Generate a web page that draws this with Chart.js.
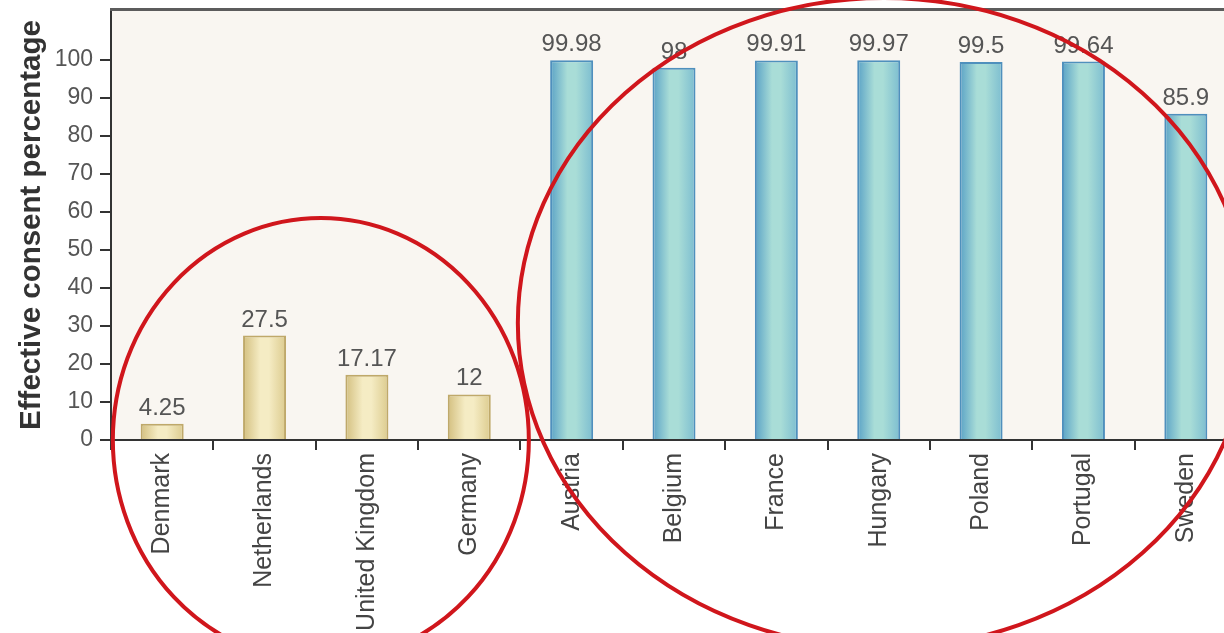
<!DOCTYPE html>
<html>
<head>
<meta charset="utf-8">
<title>Effective consent percentage</title>
<script src="https://cdn.jsdelivr.net/npm/chart.js@4.4.1/dist/chart.umd.min.js"></script>
<style>
    html, body { margin: 0; padding: 0; background: #fff; overflow: hidden; }
    #wrap { width: 1224px; height: 633px; overflow: hidden; }
    canvas { display: block; }
</style>
</head>
<body>
<div id="wrap"><canvas id="consent-chart" width="1250" height="633"></canvas></div>
<script>
/* global Chart:false */
'use strict';

var countries = ['Denmark', 'Netherlands', 'United Kingdom', 'Germany', 'Austria', 'Belgium',
    'France', 'Hungary', 'Poland', 'Portugal', 'Sweden'];
var consent = [4.25, 27.5, 17.17, 12, 99.98, 98, 99.91, 99.97, 99.5, 99.64, 85.9];
var system = ['opt-in', 'opt-in', 'opt-in', 'opt-in', 'opt-out', 'opt-out',
    'opt-out', 'opt-out', 'opt-out', 'opt-out', 'opt-out'];
var yTicks = [0, 10, 20, 30, 40, 50, 60, 70, 80, 90, 100];

var FONT = "'Liberation Sans', Arial, Helvetica, sans-serif";
var BAR_PCT = 0.42;

var palette = {
    'opt-in': { edge: '#d3bf7f', mid: '#f5ecc4', right: '#dccb8e', border: '#bfa96a' },
    'opt-out': { edge: '#5aa2c6', mid: '#a9ddd7', right: '#7cbdd0', border: '#4f90bd' },
};

// cylinder-like shading across each bar
function barFill(ctx) {
    var pal = palette[system[ctx.dataIndex]];
    var chart = ctx.chart;
    var xs = chart.scales.x;
    if (!chart.chartArea || !xs || ctx.type !== 'data') return pal.mid;
    var cx = xs.getPixelForValue(ctx.dataIndex);
    var half = (xs.width / countries.length) * BAR_PCT / 2;
    var g = chart.ctx.createLinearGradient(cx - half, 0, cx + half, 0);
    g.addColorStop(0, pal.edge);
    g.addColorStop(0.4, pal.mid);
    g.addColorStop(0.6, pal.mid);
    g.addColorStop(1, pal.right);
    return g;
}

var backdrop = {
    id: 'backdrop',
    beforeDraw: function (chart) {
        var a = chart.chartArea, c = chart.ctx;
        c.save();
        c.fillStyle = '#f9f6f1';
        c.fillRect(a.left, a.top, a.right - a.left, a.bottom - a.top);
        c.restore();
    },
    afterDraw: function (chart) {
        var a = chart.chartArea, c = chart.ctx;
        c.save();
        c.strokeStyle = '#5c5c5c';
        c.lineWidth = 3;
        c.beginPath();
        c.moveTo(a.left - 1, a.top - 0.5);
        c.lineTo(a.right, a.top - 0.5);
        c.stroke();
        c.restore();
    },
};

var valueLabels = {
    id: 'valueLabels',
    afterDatasetsDraw: function (chart) {
        var c = chart.ctx;
        var meta = chart.getDatasetMeta(0);
        c.save();
        c.font = '24px ' + FONT;
        c.fillStyle = '#555';
        c.textAlign = 'center';
        c.textBaseline = 'alphabetic';
        meta.data.forEach(function (bar, i) {
            c.fillText(String(consent[i]), bar.x, bar.y - 9);
        });
        c.restore();
    },
};

// red rings around the two groups of countries
var rings = {
    id: 'rings',
    afterDraw: function (chart) {
        var xs = chart.scales.x, ys = chart.scales.y, c = chart.ctx;
        var marks = [
            { at: 1.55, val: 0, rx: 208, ry: 222 },
            { at: 7.05, val: 30.8, rx: 366, ry: 325 },
        ];
        c.save();
        c.strokeStyle = '#d0161c';
        c.lineWidth = 4;
        marks.forEach(function (m) {
            c.beginPath();
            c.ellipse(xs.getPixelForValue(m.at), ys.getPixelForValue(m.val), m.rx, m.ry, 0, 0, Math.PI * 2);
            c.stroke();
        });
        c.restore();
    },
};

new Chart(document.getElementById('consent-chart'), {
    type: 'bar',
    data: {
        labels: countries,
        datasets: [
            {
                data: consent,
                backgroundColor: barFill,
                borderColor: system.map(function (s) { return palette[s].border; }),
                borderWidth: 2,
                barPercentage: BAR_PCT,
                categoryPercentage: 1,
            },
        ],
    },
    options: {
        responsive: false,
        animation: false,
        layout: { padding: { top: 10, right: 13, left: 0, bottom: 0 } },
        plugins: {
            legend: { display: false },
            tooltip: { enabled: false },
        },
        scales: {
            x: {
                grid: { drawOnChartArea: false, color: '#333', lineWidth: 2, tickLength: 10 },
                border: { color: '#333', width: 2 },
                ticks: {
                    minRotation: 90,
                    maxRotation: 90,
                    autoSkip: false,
                    padding: 3,
                    color: '#444',
                    font: { family: FONT, size: 25 },
                },
                afterFit: function (scale) {
                    scale.height = 193;
                    scale.paddingLeft = 0;
                    scale.paddingRight = 0;
                },
            },
            y: {
                min: 0,
                max: 113.2,
                grid: { drawOnChartArea: false, color: '#333', lineWidth: 2, tickLength: 11 },
                border: { color: '#333', width: 2 },
                ticks: {
                    padding: 7,
                    color: '#555',
                    font: { family: FONT, size: 23 },
                },
                afterBuildTicks: function (scale) {
                    scale.ticks = yTicks.map(function (v) { return { value: v }; });
                },
                title: {
                    display: true,
                    text: 'Effective consent percentage',
                    color: '#333',
                    font: { family: FONT, size: 29.5, weight: 'bold' },
                    padding: { top: 14, bottom: 0 },
                },
                afterFit: function (scale) {
                    scale.width = 111;
                    scale.paddingTop = 0;
                    scale.paddingBottom = 0;
                },
            },
        },
    },
    plugins: [backdrop, valueLabels, rings],
});
</script>
</body>
</html>
